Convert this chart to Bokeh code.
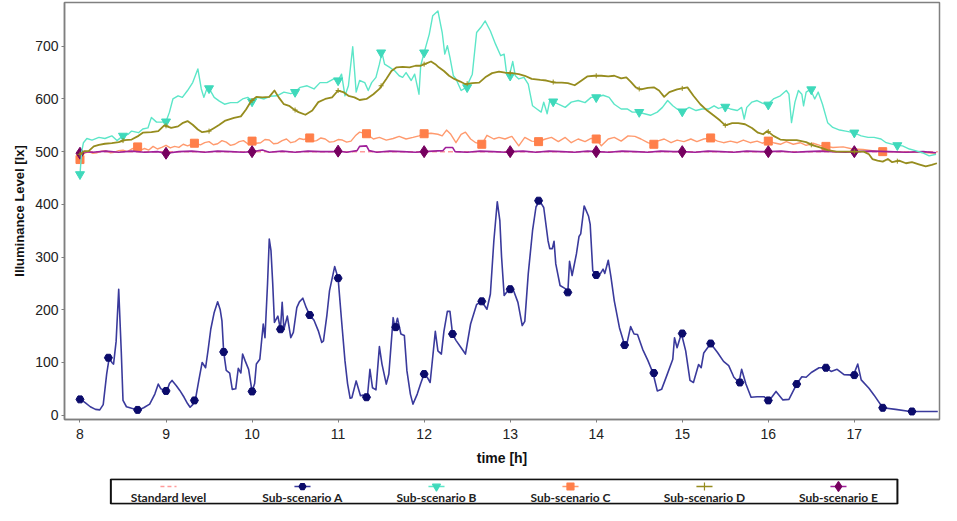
from bokeh.plotting import figure
from bokeh.models import Range1d, FixedTicker
from bokeh.layouts import column
from bokeh.core.properties import value
from bokeh.embed import file_html
from bokeh.resources import INLINE

# ---------------- data ----------------
a_t = [8.00,8.06,8.12,8.18,8.23,8.27,8.31,8.34,8.37,8.39,8.42,8.45,8.48,8.50,8.54,8.60,8.68,8.74,8.81,8.87,8.91,8.94,8.97,9.01,9.04,9.07,9.12,9.16,9.21,9.25,9.28,9.31,9.34,9.38,9.42,9.46,9.49,9.52,9.56,9.60,9.63,9.65,9.67,9.70,9.74,9.77,9.81,9.84,9.87,9.89,9.92,9.96,10.00,10.03,10.05,10.09,10.13,10.15,10.18,10.20,10.22,10.24,10.26,10.30,10.33,10.35,10.37,10.41,10.45,10.48,10.52,10.55,10.59,10.63,10.67,10.72,10.77,10.81,10.83,10.87,10.90,10.96,11.00,11.04,11.08,11.11,11.14,11.16,11.21,11.26,11.29,11.34,11.37,11.40,11.44,11.48,11.51,11.56,11.59,11.64,11.66,11.69,11.73,11.77,11.80,11.84,11.87,11.92,11.96,12.00,12.04,12.07,12.13,12.16,12.20,12.23,12.27,12.30,12.33,12.37,12.43,12.48,12.54,12.61,12.67,12.73,12.77,12.81,12.85,12.88,12.90,12.93,12.99,13.04,13.09,13.14,13.17,13.21,13.26,13.30,13.34,13.39,13.44,13.46,13.49,13.51,13.53,13.58,13.64,13.67,13.69,13.72,13.77,13.80,13.82,13.86,13.91,13.93,13.96,14.00,14.05,14.08,14.10,14.14,14.17,14.21,14.27,14.33,14.36,14.40,14.44,14.48,14.54,14.60,14.66,14.71,14.76,14.82,14.89,14.91,14.94,14.99,15.04,15.09,15.13,15.19,15.22,15.25,15.33,15.41,15.48,15.54,15.60,15.66,15.69,15.74,15.80,15.87,15.95,16.00,16.04,16.09,16.17,16.24,16.33,16.39,16.44,16.50,16.59,16.67,16.73,16.80,16.88,16.99,17.04,17.08,17.17,17.23,17.33,17.48,17.65,17.97]
a_v = [31,24,16,11,10,20,78,109,100,97,140,239,120,28,16,13,10,14,21,40,59,50,48,46,60,66,56,47,34,22,15,20,28,65,100,90,125,163,195,215,200,179,120,85,80,49,50,89,80,116,103,87,45,60,97,106,173,147,250,334,312,250,176,188,163,214,163,188,147,157,204,215,222,204,190,180,160,138,141,190,236,282,260,180,103,60,32,33,65,37,38,34,87,52,48,130,97,59,78,185,165,184,154,151,84,40,21,40,60,78,71,62,159,122,116,159,197,197,154,142,128,116,173,210,216,201,230,330,405,369,300,227,240,236,214,170,178,268,350,395,407,394,331,316,316,330,287,246,240,233,292,265,306,339,344,397,378,362,274,266,269,277,269,294,264,217,166,133,138,168,154,153,125,104,80,46,49,75,106,147,128,155,122,66,62,96,90,118,136,119,102,94,72,62,87,59,34,35,35,28,34,45,29,30,59,73,72,81,90,90,83,87,77,76,97,67,51,38,14,11,7,7]
a_mark_t = [8.00,8.33,8.67,9.00,9.33,9.67,10.00,10.33,10.67,11.00,11.33,11.67,12.00,12.33,12.67,13.00,13.33,13.67,14.00,14.33,14.67,15.00,15.33,15.67,16.00,16.33,16.67,17.00,17.33,17.67]
a_mark_v = [30,109,10,46,28,120,45,163,190,260,34,167,78,154,216,239,407,233,266,133,80,155,136,62,28,59,90,76,14,7]

b_t = [8.00,8.02,8.04,8.08,8.14,8.22,8.29,8.37,8.43,8.50,8.56,8.60,8.68,8.73,8.79,8.83,8.89,8.95,9.00,9.04,9.08,9.14,9.19,9.25,9.31,9.37,9.41,9.44,9.48,9.50,9.56,9.62,9.68,9.75,9.83,9.89,9.95,10.00,10.06,10.14,10.21,10.29,10.37,10.45,10.50,10.56,10.64,10.72,10.79,10.87,10.95,11.00,11.04,11.08,11.12,11.17,11.21,11.25,11.31,11.35,11.39,11.44,11.48,11.51,11.54,11.60,11.66,11.71,11.75,11.79,11.85,11.89,11.94,11.96,12.00,12.06,12.10,12.16,12.21,12.24,12.27,12.30,12.34,12.37,12.43,12.49,12.56,12.61,12.66,12.71,12.77,12.83,12.89,12.93,12.96,12.99,13.03,13.06,13.10,13.16,13.21,13.26,13.31,13.36,13.39,13.43,13.46,13.50,13.56,13.64,13.71,13.79,13.87,13.94,14.00,14.08,14.15,14.21,14.29,14.36,14.42,14.49,14.56,14.63,14.71,14.77,14.83,14.89,14.94,15.00,15.08,15.16,15.23,15.31,15.37,15.42,15.49,15.56,15.64,15.69,15.72,15.75,15.81,15.87,15.93,15.99,16.06,16.14,16.21,16.24,16.27,16.31,16.35,16.39,16.41,16.44,16.49,16.54,16.58,16.63,16.69,16.75,16.83,16.90,16.99,17.08,17.16,17.23,17.31,17.37,17.49,17.56,17.64,17.71,17.79,17.87,17.95]
b_v = [457,500,517,525,522,527,525,530,521,530,533,539,536,543,545,565,556,556,557,575,600,606,603,616,631,657,619,603,622,620,603,596,590,593,593,600,603,595,603,600,605,606,613,610,613,622,625,619,631,631,638,635,647,606,625,699,613,635,631,616,631,641,666,688,666,660,653,644,641,650,635,647,609,663,688,723,758,767,726,685,701,679,644,638,616,622,647,726,736,748,729,704,682,685,647,644,671,644,638,641,628,587,581,575,594,572,597,595,590,584,594,597,593,603,603,607,603,590,581,581,575,575,572,569,575,584,597,587,581,576,584,578,581,581,587,582,585,581,578,584,562,584,594,597,592,589,600,606,616,609,555,594,616,609,587,613,618,600,613,590,555,546,541,539,536,530,527,527,524,517,512,511,505,502,498,492,495]
b_mark_t = [8.0,8.5,9.0,9.5,10.0,10.5,11.0,11.5,12.0,12.5,13.0,13.5,14.0,14.5,15.0,15.5,16.0,16.5,17.0,17.5]
b_mark_v = [457,530,557,620,595,613,635,688,688,622,644,595,603,575,576,585,589,618,536,512]

c_t = [8.00,8.03,8.05,8.10,8.15,8.20,8.25,8.30,8.35,8.40,8.45,8.50,8.55,8.60,8.67,8.72,8.75,8.80,8.85,8.90,8.95,9.00,9.05,9.10,9.15,9.20,9.25,9.33,9.40,9.45,9.50,9.55,9.60,9.65,9.70,9.75,9.80,9.85,9.90,9.95,10.00,10.05,10.10,10.15,10.20,10.25,10.30,10.35,10.40,10.45,10.50,10.55,10.60,10.67,10.72,10.75,10.80,10.85,10.90,10.95,11.00,11.05,11.10,11.15,11.20,11.25,11.33,11.41,11.48,11.56,11.64,11.71,11.79,11.87,11.94,12.00,12.08,12.16,12.21,12.26,12.31,12.37,12.43,12.48,12.54,12.60,12.67,12.73,12.81,12.87,12.94,13.02,13.10,13.17,13.25,13.33,13.41,13.48,13.56,13.64,13.71,13.79,13.87,13.94,14.00,14.06,14.14,14.21,14.29,14.37,14.45,14.52,14.60,14.66,14.71,14.79,14.87,14.94,15.02,15.10,15.17,15.25,15.33,15.41,15.48,15.56,15.64,15.71,15.79,15.87,15.93,16.00,16.06,16.14,16.21,16.29,16.37,16.44,16.52,16.60,16.67,16.75,16.87,16.98,17.10,17.21,17.33,17.44,17.60,17.75,17.95]
c_v = [485,492,497,500,497,498,501,502,498,499,502,503,500,505,509,504,506,503,510,505,508,512,507,510,508,514,511,516,513,517,519,513,515,521,518,512,514,519,521,515,520,516,517,523,522,515,516,521,524,517,519,525,523,526,520,521,526,524,518,519,523,522,518,520,530,537,534,524,527,522,525,529,524,527,530,534,535,533,530,541,533,517,533,537,524,517,514,531,524,527,524,529,511,527,520,519,524,527,519,527,517,524,519,525,524,511,524,527,520,530,529,524,517,514,520,524,517,522,519,524,519,524,526,520,517,520,517,522,517,520,516,520,517,514,519,514,517,512,516,512,510,508,509,505,504,502,500,500,499,499,497]
c_mark_t = [8.00,8.67,9.33,10.00,10.67,11.33,12.00,12.67,13.33,14.00,14.67,15.33,16.00,16.67,17.33]
c_mark_v = [485,509,516,520,526,534,534,514,519,524,514,526,520,510,500]

d_t = [8.00,8.05,8.10,8.16,8.22,8.29,8.37,8.45,8.52,8.60,8.68,8.73,8.83,8.91,8.98,9.06,9.14,9.19,9.25,9.31,9.37,9.42,9.50,9.56,9.62,9.69,9.79,9.87,9.93,9.99,10.05,10.12,10.20,10.26,10.31,10.37,10.43,10.48,10.54,10.62,10.70,10.77,10.85,10.93,11.00,11.06,11.12,11.19,11.25,11.33,11.41,11.48,11.56,11.62,11.68,11.75,11.83,11.90,11.96,12.02,12.08,12.13,12.17,12.23,12.29,12.35,12.42,12.48,12.56,12.64,12.71,12.79,12.87,12.94,13.02,13.10,13.17,13.25,13.35,13.42,13.52,13.60,13.67,13.75,13.83,13.90,13.98,14.06,14.14,14.21,14.29,14.35,14.40,14.46,14.52,14.60,14.67,14.73,14.79,14.85,14.94,15.00,15.06,15.13,15.21,15.29,15.37,15.44,15.50,15.58,15.65,15.73,15.81,15.88,15.94,15.99,16.06,16.14,16.21,16.33,16.44,16.52,16.60,16.69,16.79,16.90,17.02,17.11,17.17,17.21,17.27,17.33,17.39,17.44,17.52,17.60,17.67,17.75,17.83,17.90,17.96]
d_v = [495,501,501,510,513,515,516,518,522,523,530,536,537,539,550,545,548,554,558,551,542,537,539,545,551,559,564,567,580,596,604,603,604,616,603,590,587,581,575,570,578,594,600,603,616,613,606,603,598,600,609,619,638,653,660,661,660,663,663,667,671,666,660,653,644,638,633,628,630,631,641,649,652,650,649,647,644,638,636,635,631,631,630,626,635,643,644,644,643,644,639,641,633,622,618,621,622,616,604,613,618,620,622,606,590,578,568,559,550,554,554,552,545,536,533,539,530,523,522,522,518,512,508,503,500,500,500,500,495,486,483,481,486,480,483,478,480,476,472,475,478]
d_mark_t = [8.0,8.5,9.0,9.5,10.0,10.5,11.0,11.5,12.0,12.5,13.0,13.5,14.0,14.5,15.0,15.5,16.0,16.5,17.0,17.5]
d_mark_v = [495,521,549,539,597,579,616,625,666,629,649,632,644,619,620,550,538,513,500,482]

e_t = [8.00,8.04,8.15,8.30,8.45,8.60,8.75,8.90,9.00,9.15,9.30,9.45,9.60,9.75,9.90,10.00,10.12,10.20,10.35,10.50,10.65,10.80,10.95,11.00,11.10,11.22,11.25,11.33,11.36,11.45,11.60,11.75,11.90,12.00,12.10,12.22,12.25,12.33,12.36,12.50,12.65,12.80,12.95,13.00,13.15,13.30,13.45,13.60,13.75,13.90,14.00,14.15,14.30,14.45,14.60,14.75,14.90,15.00,15.15,15.30,15.45,15.60,15.75,15.90,16.00,16.15,16.30,16.45,16.60,16.75,16.90,17.00,17.20,17.40,17.60,17.80,17.95]
e_v = [497,500,499,501,499,501,499,500,497,500,501,499,501,500,499,500,503,499,501,499,501,500,500,501,499,502,510,511,502,499,501,500,499,500,501,502,508,508,500,499,501,500,499,500,501,499,501,500,499,501,500,499,501,500,499,501,500,500,499,501,500,499,501,500,500,501,499,500,501,500,499,500,501,500,499,500,498]
e_mark_t = [8.0,9.0,10.0,11.0,12.0,13.0,14.0,15.0,16.0,17.0]
e_mark_v = [497,497,500,501,500,500,500,500,500,500]

std_t = [8.0, 17.97]
std_v = [500, 500]

series_labels = ["Standard level", "Sub-scenario A", "Sub-scenario B",
                 "Sub-scenario C", "Sub-scenario D", "Sub-scenario E"]
x_ticks = [8, 9, 10, 11, 12, 13, 14, 15, 16, 17]
y_ticks = [0, 100, 200, 300, 400, 500, 600, 700]

# ---------------- styles ----------------
col_std = "#ff9a9a"
col_a_line, col_a_mark = "#3a3a9c", "#0b0b6b"
col_b_line, col_b_mark = "#5ce6c8", "#3fd9bb"
col_c_line, col_c_mark = "#ff9a6e", "#ff7f4a"
col_d = "#968c1e"
col_e_line, col_e_mark = "#a0209a", "#76005f"

# ---------------- main figure ----------------
p = figure(width=941, height=469, output_backend="svg", toolbar_location=None,
           x_range=Range1d(7.82, 17.99), y_range=Range1d(-8.2, 783),
           min_border_left=64, min_border_top=2, min_border_right=2, min_border_bottom=50)
p.background_fill_color = "white"
p.border_fill_color = "white"
p.outline_line_color = "#808080"
p.outline_line_width = 1.5
p.xgrid.visible = False
p.ygrid.visible = False

for ax in (p.xaxis[0], p.yaxis[0]):
    ax.axis_line_color = "#7f7f7f"
    ax.axis_line_width = 1.5
    ax.major_tick_line_color = "#7f7f7f"
    ax.major_tick_in = 0
    ax.major_tick_out = 3
    ax.minor_tick_line_color = None
    ax.major_label_text_font = "Liberation Sans"
    ax.major_label_text_font_size = "14px"
    ax.major_label_text_color = "#222222"
    ax.axis_label_text_font = "Liberation Sans"
    ax.axis_label_text_font_style = "bold"
    ax.axis_label_text_color = "#111111"

p.xaxis.ticker = FixedTicker(ticks=x_ticks)
p.yaxis.ticker = FixedTicker(ticks=y_ticks)
p.xaxis.axis_label = "time [h]"
p.xaxis.axis_label_text_font_size = "14px"
p.xaxis.major_label_standoff = 6
p.xaxis.axis_label_standoff = 8
p.yaxis.axis_label = "Illuminance Level [lx]"
p.yaxis.axis_label_text_font_size = "13px"
p.yaxis.major_label_standoff = 3
p.yaxis.axis_label_standoff = 5

p.line(std_t, std_v, line_color=col_std, line_width=1.5, line_dash="5 3")
p.line(c_t, c_v, line_color=col_c_line, line_width=1.4, line_join="round")
p.scatter(c_mark_t, c_mark_v, marker="square", size=8, fill_color=col_c_mark, line_color=col_c_mark)
p.line(e_t, e_v, line_color=col_e_line, line_width=1.6, line_join="round")
p.scatter(e_mark_t, e_mark_v, marker="diamond", size=12, fill_color=col_e_mark, line_color=col_e_mark)
p.line(b_t, b_v, line_color=col_b_line, line_width=1.4, line_join="round")
p.scatter(b_mark_t, b_mark_v, marker="inverted_triangle", size=9, fill_color=col_b_mark, line_color=col_b_mark)
p.line(d_t, d_v, line_color=col_d, line_width=1.8, line_join="round")
p.scatter(d_mark_t, d_mark_v, marker="cross", size=5, line_color=col_d, line_width=1)
p.line(a_t, a_v, line_color=col_a_line, line_width=1.6, line_join="round")
p.scatter(a_mark_t, a_mark_v, marker="hex", size=8, fill_color=col_a_mark, line_color=col_a_mark)

# ---------------- legend strip: swatch above label, one slot per series ----------------
slots = list(range(len(series_labels)))
sw_line_cols = [col_a_line, col_b_line, col_c_line, col_d, col_e_line]
sw_mark_cols = [col_a_mark, col_b_mark, col_c_mark, col_d, col_e_mark]
sw_markers = ["hex", "inverted_triangle", "square", "cross", "diamond"]
sw_sizes = [7, 8, 7, 8, 10]
row_mark = [1] * len(slots)
row_text = [0] * len(slots)

lg = figure(width=941, height=36, output_backend="svg", toolbar_location=None,
            x_range=Range1d(-0.776, 5.754), y_range=Range1d(-0.64, 1.73),
            x_axis_location=None, y_axis_location=None,
            min_border_left=64, min_border_right=2, min_border_top=9, min_border_bottom=1)
lg.outline_line_color = None
lg.xgrid.visible = False
lg.ygrid.visible = False
lg.background_fill_color = "white"
lg.border_fill_color = "white"

# legend box
lg.quad(left=[slots[0] - 0.43], right=[slots[-1] + 0.44], bottom=[-0.58], top=[1.67],
        fill_color="white", line_color="#111111", line_width=2)
lg.segment(x0=[s - 0.06 for s in slots[:1]], y0=row_mark[:1], x1=[s + 0.06 for s in slots[:1]], y1=row_mark[:1],
           line_color=col_std, line_width=1.5, line_dash="4 3")
lg.segment(x0=[s - 0.06 for s in slots[1:]], y0=row_mark[1:], x1=[s + 0.06 for s in slots[1:]], y1=row_mark[1:],
           line_color=sw_line_cols, line_width=1.3)
lg.scatter(x=slots[1:], y=row_mark[1:], marker=sw_markers, size=sw_sizes,
           fill_color=sw_mark_cols, line_color=sw_mark_cols, line_width=1.2)
lg.text(x=slots, y=row_text, text=series_labels, text_align="center", text_baseline="middle",
        text_font=value("Lato"), text_font_style="bold", text_font_size="12px", text_color="#222222")

open("out.html", "w").write(file_html(column(p, lg, spacing=0), INLINE))
